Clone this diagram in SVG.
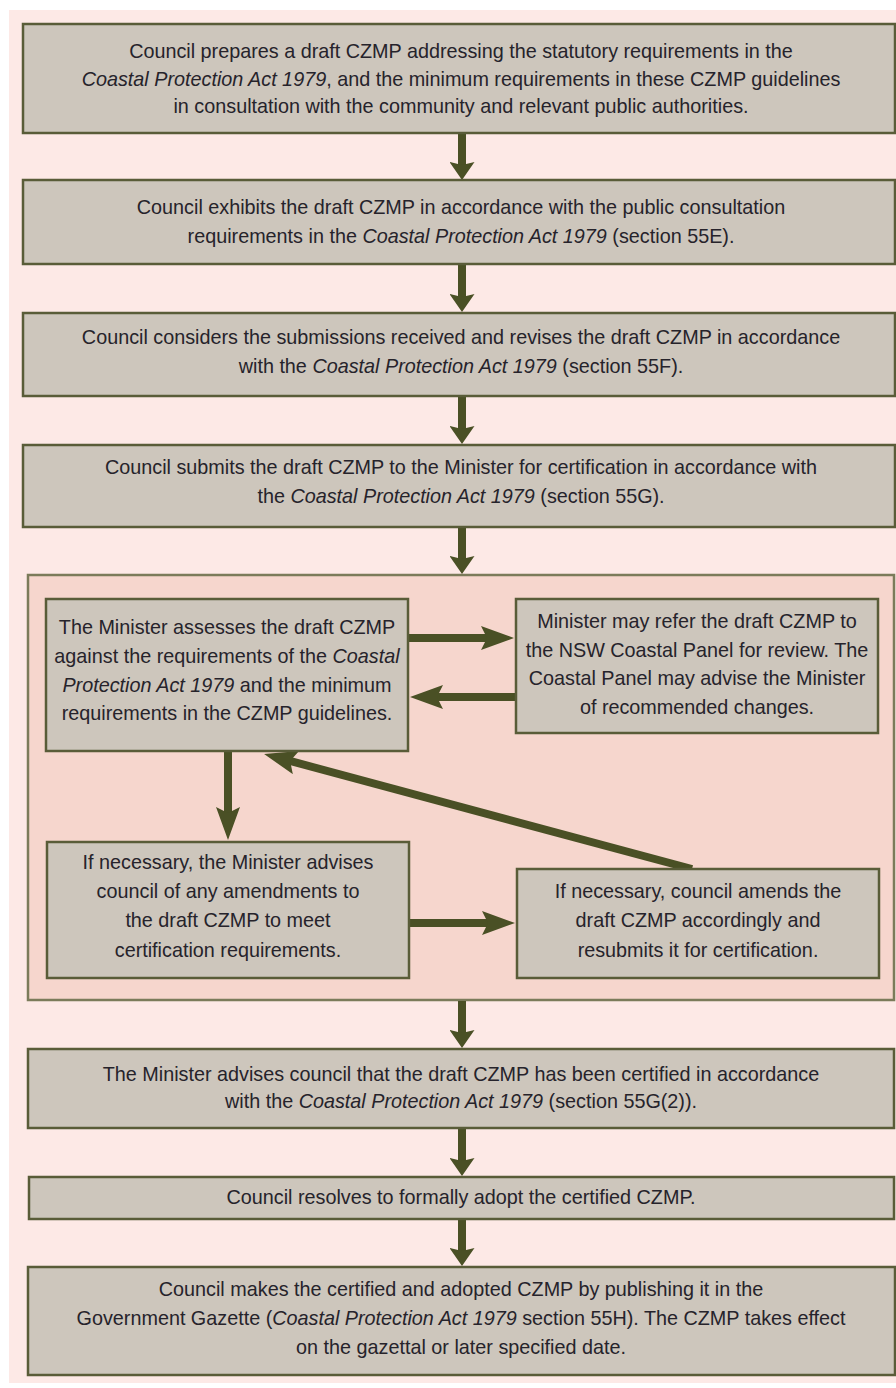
<svg xmlns="http://www.w3.org/2000/svg" width="896" height="1388" viewBox="0 0 896 1388">
<style>
.box{fill:#cdc6bc;stroke:#595c38;stroke-width:2.5}
.panel{fill:#f6d6cd;stroke:#7b7b5a;stroke-width:2.5}
.t{font-family:"Liberation Sans",Arial,sans-serif;font-size:19.8px;fill:#26232b;text-anchor:middle}
.i{font-style:italic}
.c{stroke:#4a5025;stroke-width:8;fill:none}
.cs{marker-end:url(#hs)}
.cl{marker-end:url(#hl)}
</style>
<defs>
<marker id="hs" markerUnits="userSpaceOnUse" viewBox="0 0 18 25" markerWidth="18" markerHeight="25" refX="8" refY="12.5" orient="auto">
<path d="M0,0 L18,12.5 L0,25 L3,12.5 z" fill="#4a5025"/>
</marker>
<marker id="hl" markerUnits="userSpaceOnUse" viewBox="0 0 33 24" markerWidth="33" markerHeight="24" refX="13" refY="12" orient="auto">
<path d="M0,0 L33,12 L0,24 L6,12 z" fill="#4a5025"/>
</marker>
</defs>
<rect x="0" y="0" width="896" height="1388" fill="#ffffff"/>
<rect x="9" y="10" width="887" height="1373" fill="#fde9e6"/>
<g id="panel"><rect class="panel" x="28" y="575" width="866" height="425"/></g>

<g id="connectors">
<line class="c cs" x1="462" y1="134" x2="462" y2="170"/>
<line class="c cs" x1="462" y1="265" x2="462" y2="302"/>
<line class="c cs" x1="462" y1="397" x2="462" y2="434"/>
<line class="c cs" x1="462" y1="528" x2="462" y2="564"/>
<line class="c cs" x1="462" y1="1001" x2="462" y2="1038"/>
<line class="c cs" x1="462" y1="1129" x2="462" y2="1166"/>
<line class="c cs" x1="462" y1="1220" x2="462" y2="1256"/>
<line class="c cl" x1="409" y1="638" x2="494" y2="638"/>
<line class="c cl" x1="516" y1="697" x2="430" y2="697"/>
<line class="c cl" x1="228" y1="752" x2="228" y2="820"/>
<line class="c cl" x1="409" y1="923" x2="495" y2="923"/>
<line class="c cl" x1="692" y1="869" x2="283.4" y2="759.2"/>
</g>

<g id="n1"><rect class="box" x="23" y="24" width="872" height="109"/>
<text class="t" x="461" y="58">Council prepares a draft CZMP addressing the statutory requirements in the</text>
<text class="t" x="461" y="86"><tspan class="i">Coastal Protection Act 1979</tspan>, and the minimum requirements in these CZMP guidelines</text>
<text class="t" x="461" y="113">in consultation with the community and relevant public authorities.</text></g>

<g id="n2"><rect class="box" x="23" y="180" width="872" height="84"/>
<text class="t" x="461" y="214">Council exhibits the draft CZMP in accordance with the public consultation</text>
<text class="t" x="461" y="243">requirements in the <tspan class="i">Coastal Protection Act 1979</tspan> (section 55E).</text></g>

<g id="n3"><rect class="box" x="23" y="313" width="872" height="83"/>
<text class="t" x="461" y="344">Council considers the submissions received and revises the draft CZMP in accordance</text>
<text class="t" x="461" y="373">with the <tspan class="i">Coastal Protection Act 1979</tspan> (section 55F).</text></g>

<g id="n4"><rect class="box" x="23" y="445" width="872" height="82"/>
<text class="t" x="461" y="474">Council submits the draft CZMP to the Minister for certification in accordance with</text>
<text class="t" x="461" y="503">the <tspan class="i">Coastal Protection Act 1979</tspan> (section 55G).</text></g>

<g id="n5"><rect class="box" x="46" y="599" width="362" height="152"/>
<text class="t" x="227" y="634">The Minister assesses the draft CZMP</text>
<text class="t" x="227" y="663">against the requirements of the <tspan class="i">Coastal</tspan></text>
<text class="t" x="227" y="692"><tspan class="i">Protection Act 1979</tspan> and the minimum</text>
<text class="t" x="227" y="720">requirements in the CZMP guidelines.</text></g>

<g id="n6"><rect class="box" x="516" y="599" width="362" height="134"/>
<text class="t" x="697" y="628">Minister may refer the draft CZMP to</text>
<text class="t" x="697" y="657">the NSW Coastal Panel for review. The</text>
<text class="t" x="697" y="685">Coastal Panel may advise the Minister</text>
<text class="t" x="697" y="714">of recommended changes.</text></g>

<g id="n7"><rect class="box" x="47" y="842" width="362" height="136"/>
<text class="t" x="228" y="869">If necessary, the Minister advises</text>
<text class="t" x="228" y="898">council of any amendments to</text>
<text class="t" x="228" y="927">the draft CZMP to meet</text>
<text class="t" x="228" y="957">certification requirements.</text></g>

<g id="n8"><rect class="box" x="517" y="869" width="362" height="109"/>
<text class="t" x="698" y="898">If necessary, council amends the</text>
<text class="t" x="698" y="927">draft CZMP accordingly and</text>
<text class="t" x="698" y="957">resubmits it for certification.</text></g>

<g id="n9"><rect class="box" x="28" y="1049" width="866" height="79"/>
<text class="t" x="461" y="1081">The Minister advises council that the draft CZMP has been certified in accordance</text>
<text class="t" x="461" y="1108">with the <tspan class="i">Coastal Protection Act 1979</tspan> (section 55G(2)).</text></g>

<g id="n10"><rect class="box" x="29" y="1177" width="865" height="42"/>
<text class="t" x="461" y="1204">Council resolves to formally adopt the certified CZMP.</text></g>

<g id="n11"><rect class="box" x="28" y="1267" width="867" height="108"/>
<text class="t" x="461" y="1296">Council makes the certified and adopted CZMP by publishing it in the</text>
<text class="t" x="461" y="1325">Government Gazette (<tspan class="i">Coastal Protection Act 1979</tspan> section 55H). The CZMP takes effect</text>
<text class="t" x="461" y="1354">on the gazettal or later specified date.</text></g>
</svg>
